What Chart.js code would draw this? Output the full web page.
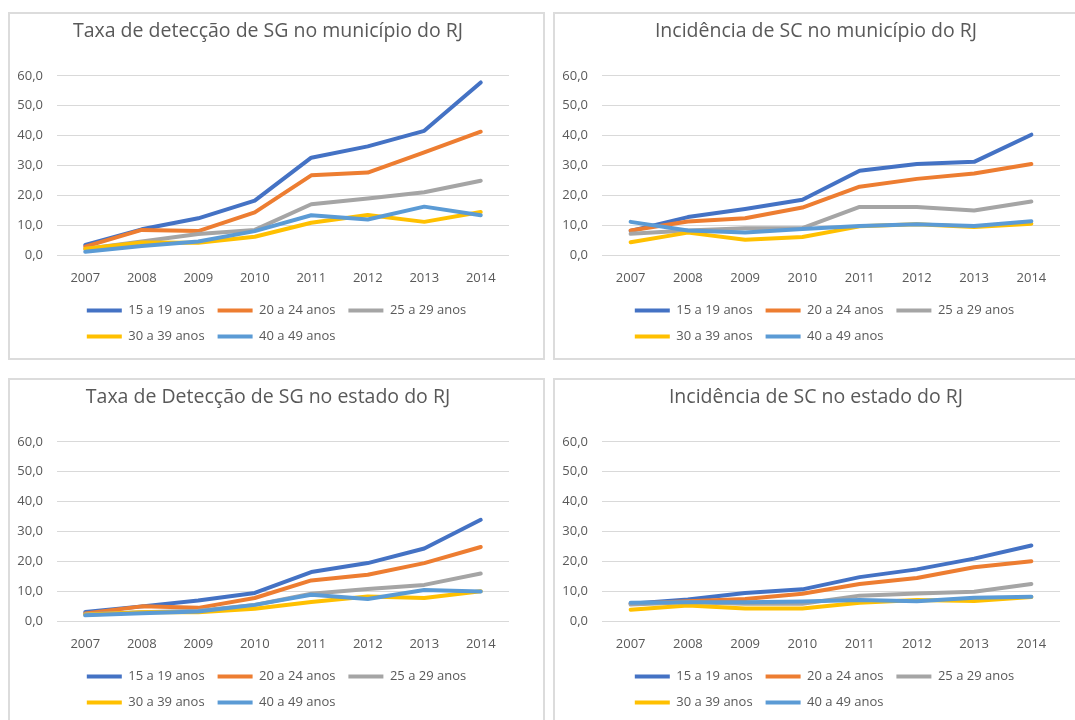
<!DOCTYPE html>
<html lang="pt-BR">
<head>
<meta charset="utf-8">
<title>Taxa de detecção de SG e incidência de SC - RJ</title>
<script src="https://cdn.jsdelivr.net/npm/chart.js@4.4.1/dist/chart.umd.min.js"></script>
<style>
  html, body { margin: 0; padding: 0; background: #fff; width: 1075px; height: 720px; overflow: hidden; }
  .painel { position: absolute; border: 2px solid #dcdcdc; background: #fff; }
  .painel canvas { display: block; }
</style>
</head>
<body>
<div class="painel" style="left:8px; top:12px;"><canvas id="sgMun" width="533" height="344"></canvas></div>
<div class="painel" style="left:553px; top:12px;"><canvas id="scMun" width="539" height="344"></canvas></div>
<div class="painel" style="left:8px; top:378px;"><canvas id="sgEst" width="533" height="344"></canvas></div>
<div class="painel" style="left:553px; top:378px;"><canvas id="scEst" width="539" height="344"></canvas></div>
<script>
// Anos e faixas etárias
const anos = ['2007', '2008', '2009', '2010', '2011', '2012', '2013', '2014'];
const faixas = ['15 a 19 anos', '20 a 24 anos', '25 a 29 anos', '30 a 39 anos', '40 a 49 anos'];

// Taxa de detecção de SG no município do RJ
const sgMun15 = [3.4, 8.6, 12.3, 18.2, 32.6, 36.4, 41.6, 57.8];
const sgMun20 = [2.8, 8.4, 8.0, 14.3, 26.7, 27.6, 34.4, 41.3];
const sgMun25 = [2.0, 4.5, 7.0, 8.4, 17.0, 18.9, 21.0, 24.9];
const sgMun30 = [2.1, 4.2, 4.1, 6.1, 10.8, 13.4, 11.1, 14.4];
const sgMun40 = [1.1, 3.0, 4.5, 8.0, 13.3, 11.9, 16.2, 13.3];

// Incidência de SC no município do RJ
const scMun15 = [8.1, 12.7, 15.4, 18.5, 28.2, 30.5, 31.2, 40.3];
const scMun20 = [8.2, 11.2, 12.3, 15.9, 22.9, 25.5, 27.3, 30.5];
const scMun25 = [7.1, 8.2, 9.0, 9.0, 16.1, 16.1, 14.9, 17.9];
const scMun30 = [4.3, 7.5, 5.1, 6.0, 9.6, 10.3, 9.4, 10.5];
const scMun40 = [11.1, 8.2, 7.5, 8.7, 9.7, 10.3, 9.7, 11.3];

// Taxa de detecção de SG no estado do RJ
const sgEst15 = [3.0, 4.9, 6.9, 9.4, 16.4, 19.4, 24.3, 33.9];
const sgEst20 = [2.5, 4.9, 4.4, 7.7, 13.6, 15.5, 19.4, 24.8];
const sgEst25 = [2.3, 2.9, 3.4, 5.4, 9.1, 10.7, 12.1, 15.9];
const sgEst30 = [2.1, 2.9, 2.9, 4.1, 6.4, 8.2, 7.7, 10.0];
const sgEst40 = [1.9, 2.6, 3.2, 5.4, 8.8, 7.4, 10.4, 9.9];

// Incidência de SC no estado do RJ
const scEst15 = [5.8, 7.2, 9.4, 10.6, 14.7, 17.3, 20.9, 25.3];
const scEst20 = [5.8, 6.6, 7.4, 9.1, 12.4, 14.4, 18.0, 20.0];
const scEst25 = [5.5, 6.3, 5.8, 5.8, 8.5, 9.2, 9.8, 12.4];
const scEst30 = [3.8, 5.2, 4.2, 4.2, 6.1, 7.0, 6.7, 8.0];
const scEst40 = [6.1, 6.3, 6.3, 6.5, 7.0, 6.6, 7.8, 8.1];

const cores = ['#4472C4', '#ED7D31', '#A5A5A5', '#FFC000', '#5B9BD5'];
const cinzaTexto = '#595959';

Chart.defaults.font.family = "'Open Sans', sans-serif";
Chart.defaults.color = cinzaTexto;

// centraliza a 1a linha da legenda e alinha a 2a pela esquerda (como no Excel)
const legendaEsquerda = {
    id: 'legendaEsquerda',
    afterLayout(chart) {
        const lg = chart.legend;
        if (!lg || !lg.lineWidths) return;
        const pad = lg.options.labels.padding;
        const largura = lg.lineWidths[0] - pad;
        lg.left = (chart.width - largura) / 2 - pad;
    }
};

function criarGrafico(id, titulo, series) {
    const ctx = document.getElementById(id).getContext('2d');
    new Chart(ctx, {
        type: 'line',
        data: {
            labels: anos,
            datasets: series.map((valores, i) => ({
                label: faixas[i],
                data: valores,
                borderColor: cores[i],
                backgroundColor: cores[i],
                borderWidth: 4,
                borderCapStyle: 'round',
                borderJoinStyle: 'round',
                pointRadius: 0,
                tension: 0,
                order: series.length - i
            }))
        },
        options: {
            responsive: false,
            animation: false,
            layout: { padding: { right: 17, bottom: 5 } },
            plugins: {
                title: {
                    display: true,
                    text: titulo,
                    color: cinzaTexto,
                    font: { size: 19.5, weight: 'normal' },
                    padding: { top: 6, bottom: 32.5 }
                },
                legend: {
                    display: true,
                    position: 'bottom',
                    align: 'start',
                    fullSize: false,
                    labels: {
                        usePointStyle: true,
                        pointStyle: 'line',
                        pointStyleWidth: 35,
                        padding: 13,
                        color: cinzaTexto,
                        font: { size: 13 },
                        sort: (a, b) => a.datasetIndex - b.datasetIndex
                    }
                },
                tooltip: { enabled: false }
            },
            scales: {
                x: {
                    offset: true,
                    grid: { display: false },
                    border: { display: false },
                    ticks: { padding: 7, font: { size: 13 }, color: cinzaTexto },
                    afterFit: s => { s.height = 36; }
                },
                y: {
                    min: 0,
                    max: 60,
                    grid: { color: '#d9d9d9', drawTicks: false },
                    border: { display: false },
                    ticks: {
                        stepSize: 10,
                        padding: 14,
                        font: { size: 13 },
                        color: cinzaTexto,
                        callback: v => v.toFixed(1).replace('.', ',')
                    },
                    afterFit: s => { s.width = 47; }
                },
                yDir: {
                    position: 'right',
                    grid: { display: false },
                    border: { display: false },
                    ticks: { display: false },
                    afterFit: s => { s.width = 17; }
                }
            }
        },
        plugins: [legendaEsquerda]
    });
}

criarGrafico('sgMun', 'Taxa de detecção de SG no município do RJ', [sgMun15, sgMun20, sgMun25, sgMun30, sgMun40]);
criarGrafico('scMun', 'Incidência de SC no município do RJ', [scMun15, scMun20, scMun25, scMun30, scMun40]);
criarGrafico('sgEst', 'Taxa de Detecção de SG no estado do RJ', [sgEst15, sgEst20, sgEst25, sgEst30, sgEst40]);
criarGrafico('scEst', 'Incidência de SC no estado do RJ', [scEst15, scEst20, scEst25, scEst30, scEst40]);
</script>
</body>
</html>
